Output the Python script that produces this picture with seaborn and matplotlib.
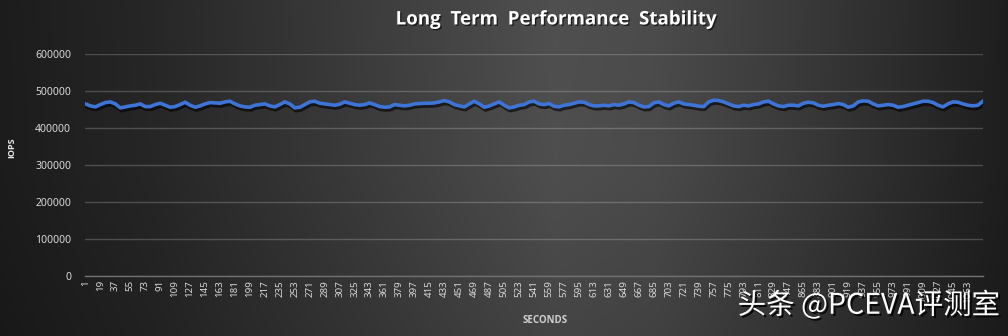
import numpy as np
import pandas as pd
import matplotlib
matplotlib.use("Agg")
import matplotlib.pyplot as plt
import matplotlib.patheffects as pe
import seaborn as sns

# IOPS sampled every 6 seconds over the run
sample_step = 6
iops = [
    464900, 459500, 456800, 463100, 468500, 470300, 464900, 454100, 456800, 459500,
    461300, 464900, 457700, 457700, 463100, 466700, 461300, 455900, 457700, 463100,
    469400, 461300, 455900, 459500, 464900, 468500, 467600, 466700, 470300, 472100,
    464900, 459500, 456800, 455900, 461300, 463100, 464900, 459500, 456800, 463100,
    470300, 464900, 454100, 455900, 463100, 470300, 472100, 466700, 464900, 463100,
    461300, 464000, 470300, 466700, 463100, 461300, 463100, 467600, 463100, 457700,
    455900, 456800, 463100, 461300, 459500, 461300, 464900, 465800, 466700, 466700,
    467600, 470300, 473900, 470300, 463100, 459500, 456800, 464900, 472100, 464900,
    455900, 459500, 464900, 470300, 461300, 454100, 456800, 461300, 463100, 470300,
    472100, 464900,
    463100, 465800, 458600, 456800, 461300, 463100, 466700, 470300, 469400, 463100,
    459500, 459500, 461300, 459500, 463100, 461300, 464900, 470300, 468500, 461300,
    456800, 457700, 467600, 470300, 463100, 459500, 466700, 470300, 464900, 463100,
    461300, 458600, 457700, 470300, 474800, 473900, 470300, 464900, 459500, 457700,
    461300, 459500, 463100, 464900, 470300, 472100, 464900, 459500, 457700, 461300,
    461300, 459500, 466700, 469400, 467600, 461300, 458600, 461300, 463100, 465800,
    463100, 455900, 459500, 470300, 473000, 472100, 464900, 459500, 461300, 463100,
    461300, 455900, 457700, 461300, 464900, 468500, 472100, 472100, 468500, 461300,
    456800, 464900, 470300, 469400, 464900, 461300, 459500, 461300, 472100,
]
seconds = [1 + sample_step * i for i in range(len(iops))]
df = pd.DataFrame({"SECONDS": seconds, "IOPS": iops})

x_ticks = list(range(1, 1064, 18))
y_ticks = [0, 100000, 200000, 300000, 400000, 500000, 600000]

fig = plt.figure(figsize=(10.08, 3.36), dpi=100)

# dark backdrop, lighter toward the middle
bg = fig.add_axes([0, 0, 1, 1], zorder=-10)
gx = np.linspace(0, 1, 600)
gy = np.linspace(0, 1, 200)
horiz = np.interp(gx, [0, 0.15, 0.35, 0.55, 0.65, 0.8, 0.95, 1.0],
                  [28, 38, 58, 78, 74, 56, 36, 30])
vert = np.interp(gy, [0, 0.5, 1.0], [0.88, 1.0, 1.02])
shade = np.clip(np.outer(vert, horiz), 0, 255) / 255.0
bg.imshow(np.dstack([shade] * 3), aspect="auto", extent=[0, 1, 0, 1], origin="lower")
bg.set_axis_off()

ax = fig.add_axes([0.0843, 0.1786, 0.8912, 0.6610])
ax.patch.set_alpha(0)

sns.lineplot(data=df, x="SECONDS", y="IOPS", ax=ax, color="#3d74d6", linewidth=2.6,
             path_effects=[pe.SimpleLineShadow(offset=(0.8, -2.0), shadow_color="black",
                                               alpha=0.6), pe.Normal()], zorder=5)

ax.set_xlim(0.5, 1081.5)
ax.set_ylim(0, 600000)
ax.set_yticks(y_ticks)
ax.set_yticklabels([str(v) for v in y_ticks])
ax.set_xticks(x_ticks)
ax.set_xticklabels([str(v) for v in x_ticks], rotation=90)

ax.grid(axis="y", color="white", alpha=0.2, linewidth=1.0)
ax.grid(axis="x", visible=False)
for side in ["top", "right", "left"]:
    ax.spines[side].set_visible(False)
ax.spines["bottom"].set_color("#707070")
ax.spines["bottom"].set_linewidth(1.0)

ax.tick_params(axis="both", length=0, colors="#d9d9d9")
ax.tick_params(axis="y", pad=10)
ax.tick_params(axis="x", pad=3)
for lab in ax.get_yticklabels():
    lab.set_fontfamily("Noto Sans")
    lab.set_fontsize(7.5)
for lab in ax.get_xticklabels():
    lab.set_fontfamily("Noto Sans")
    lab.set_fontsize(7.0)

ax.set_xlabel("")
ax.set_ylabel("")
fig.text(0.541, 0.045, "SECONDS", ha="center", va="center",
         fontfamily="Open Sans", fontsize=7, fontweight="bold", color="#d0d0d0")
fig.text(0.012, 0.56, "IOPS", rotation=90, ha="center", va="center",
         fontfamily="Open Sans", fontsize=6.5, fontweight="bold", color="#e8e8e8")

fig.text(0.552, 0.942, "Long  Term  Performance  Stability", ha="center", va="center",
         fontfamily="Open Sans", fontsize=13.5, fontweight="bold", color="white",
         path_effects=[pe.withSimplePatchShadow(offset=(1, -1), shadow_rgbFace="black",
                                                alpha=0.6)])

fig.text(0.862, 0.09, "头条 @PCEVA评测室", ha="center", va="center",
         family=["Noto Sans CJK SC", "DejaVu Sans"], fontsize=20.5, fontweight="medium",
         color="white",
         path_effects=[pe.withSimplePatchShadow(offset=(1.5, -1.5), shadow_rgbFace="black",
                                                alpha=0.8)])

fig.savefig("out.png", dpi=100)
